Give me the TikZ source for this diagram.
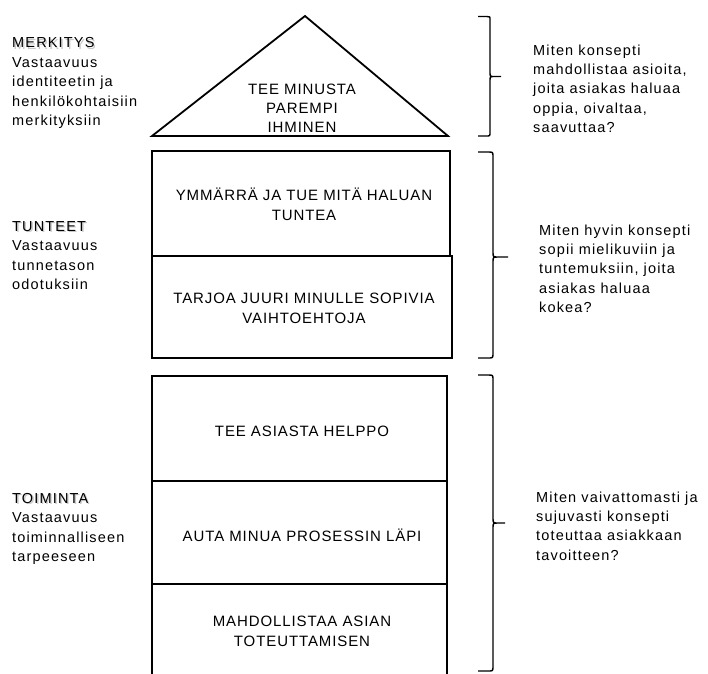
\documentclass[tikz,border=0pt]{standalone}
\usepackage{fontspec}
\setmainfont{Liberation Sans}
\newfontfamily\boxfam{Liberation Sans}[LetterSpace=6]
\newfontfamily\sidefam{Liberation Sans}[LetterSpace=8]
\begin{document}
\begin{tikzpicture}[x=1pt,y=-1pt,
  wall/.style={draw=black,line width=1.8pt},
  cell/.style={wall,anchor=north west,inner sep=0pt,outer sep=0pt},
  % multi-line texts are placed by the baseline of their last line
  boxtext/.style={font={\boxfam\fontsize{15}{19.4}\selectfont},align=center,inner sep=0pt,anchor=base},
  sidetext/.style={font={\sidefam\fontsize{14.5}{19.4}\selectfont},align=left,inner sep=0pt,anchor=base west},
  headshadow/.style={sidetext,text=black!22},
  bracepath/.style={draw=black,line width=1.4pt},
]
\clip (0,0) rectangle (708,673);

% --- roof: meaning ---
\coordinate (apex) at (305,16);
\coordinate (eaveL) at (152,136);
\coordinate (eaveR) at (448,136);
\draw[wall,line join=miter] (eaveL) -- (apex) -- (eaveR) -- cycle;
\node[boxtext] (roof) at (302,132.8) {TEE MINUSTA\\PAREMPI\\IHMINEN};

% --- middle storey: feelings ---
\node[cell,minimum width=298pt,minimum height=105pt] (feelA) at (152,151) {};
\node[cell,minimum width=300pt,minimum height=102pt] (feelB) at (152,256) {};
\node[boxtext] (feelAtxt) at (304,220) {YMMÄRRÄ JA TUE MITÄ HALUAN\\TUNTEA};
\node[boxtext] (feelBtxt) at (304,323) {TARJOA JUURI MINULLE SOPIVIA\\VAIHTOEHTOJA};

% --- ground storey: action ---
\node[cell,minimum width=295pt,minimum height=105pt] (actA) at (152,376) {};
\node[cell,minimum width=295pt,minimum height=103pt] (actB) at (152,481) {};
\node[cell,minimum width=295pt,minimum height=110pt] (actC) at (152,584) {};
\node[boxtext] (actAtxt) at (302,436) {TEE ASIASTA HELPPO};
\node[boxtext] (actBtxt) at (302,541) {AUTA MINUA PROSESSIN LÄPI};
\node[boxtext] (actCtxt) at (302,646) {MAHDOLLISTAA ASIAN\\TOTEUTTAMISEN};

% --- level headings on the left ---
\node[headshadow] at (13.4,49.1) {MERKITYS};
\node[sidetext] (meaningHead) at (12,47.7) {MERKITYS};
\node[sidetext] (meaningBody) at (12,125.5) {Vastaavuus\\identiteetin ja\\henkilökohtaisiin\\merkityksiin};

\node[headshadow] at (13.4,232.4) {TUNTEET};
\node[sidetext] (feelHead) at (12,231) {TUNTEET};
\node[sidetext] (feelBody) at (12,289.4) {Vastaavuus\\tunnetason\\odotuksiin};

\node[headshadow] at (13.4,504.4) {TOIMINTA};
\node[sidetext] (actHead) at (12,503) {TOIMINTA};
\node[sidetext] (actBody) at (12,561.4) {Vastaavuus\\toiminnalliseen\\tarpeeseen};

% --- braces and questions on the right ---
\draw[bracepath] (478,16.5) -- (487,16.5) .. controls (490,16.5) .. (490,20) -- (490,72)
  .. controls (490,76.5) .. (494,76.5) -- (501,76.5) -- (494,76.5) .. controls (490,76.5) .. (490,81)
  -- (490,132) .. controls (490,136) .. (486,136) -- (478,136);
\node[sidetext] (meaningQ) at (533,132.6) {Miten konsepti\\mahdollistaa asioita,\\joita asiakas haluaa\\oppia, oivaltaa,\\saavuttaa?};

\draw[bracepath] (478,152) -- (488,152) .. controls (493,152) .. (493,157) -- (493,252)
  .. controls (493,257) .. (498,257) -- (508,257) -- (498,257) .. controls (493,257) .. (493,262)
  -- (493,353) .. controls (493,358) .. (488,358) -- (478,358);
\node[sidetext] (feelQ) at (539,312.6) {Miten hyvin konsepti\\sopii mielikuviin ja\\tuntemuksiin, joita\\asiakas haluaa\\kokea?};

\draw[bracepath] (478,375) -- (488,375) .. controls (493,375) .. (493,380) -- (493,518)
  .. controls (493,523) .. (498,523) -- (505,523) -- (498,523) .. controls (493,523) .. (493,528)
  -- (493,666) .. controls (493,671) .. (488,671) -- (478,671);
\node[sidetext] (actQ) at (536,560.2) {Miten vaivattomasti ja\\sujuvasti konsepti\\toteuttaa asiakkaan\\tavoitteen?};
\end{tikzpicture}
\end{document}
